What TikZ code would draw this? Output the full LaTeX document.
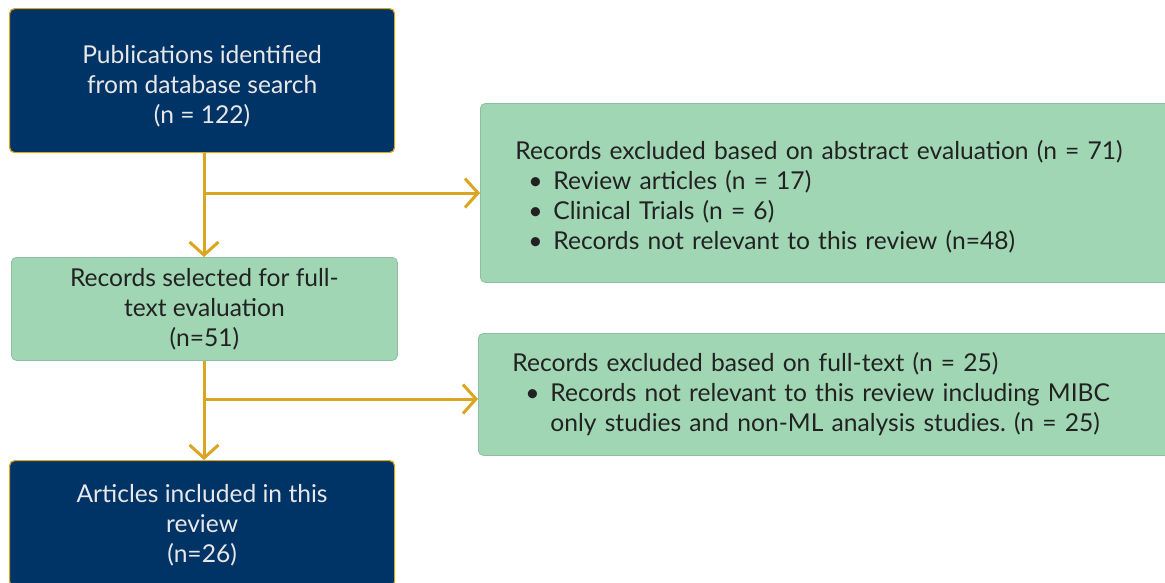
\documentclass[tikz,border=0pt]{standalone}
\usepackage{fontspec}
\setmainfont{Lato}
\usetikzlibrary{arrows.meta}
\definecolor{navy}{RGB}{0,51,102}
\definecolor{mint}{RGB}{160,214,180}
\definecolor{gold}{RGB}{218,165,32}
\definecolor{mintline}{RGB}{140,192,160}
\definecolor{darktext}{RGB}{34,34,34}
\definecolor{lighttext}{RGB}{232,232,232}
\newcommand{\bitem}{\hspace*{13pt}\makebox[25pt][l]{\textbullet}}
\frenchspacing
\begin{document}
\begin{tikzpicture}[x=1pt,y=-1pt,
  navybox/.style={draw=gold, line width=1.2pt, fill=navy, rounded corners=5pt, text=lighttext, align=center, font=\fontsize{24.6}{30}\selectfont},
  mintbox/.style={draw=mintline, line width=0.8pt, fill=mint, rounded corners=5pt, text=darktext, font=\fontsize{24.6}{30}\selectfont},
  flow/.style={draw=gold, line width=3pt, -{Straight Barb[length=13pt,width=29pt]}}]
\useasboundingbox (0,0) rectangle (1165,582);
\node[navybox, minimum width=385pt, minimum height=144pt, anchor=north west] (pub) at (9,8) {\rule{0pt}{30pt}Publications identified\\from database search\\(n = 122)};
\node[mintbox, align=center, minimum width=386pt, minimum height=103pt, anchor=north west] (sel) at (11,257) {Records selected for full-\\text evaluation\\(n=51)};
\node[navybox, minimum width=385pt, minimum height=126pt, anchor=north west] (inc) at (9,460) {\rule{0pt}{22pt}Articles included in this\\review\\(n=26)};
\node[mintbox, align=left, text width=660pt, inner xsep=35pt, minimum height=179pt, anchor=north west] (exA) at (480,103) {\rule{0pt}{26pt}Records excluded based on abstract evaluation (n = 71)\\\bitem Review articles (n = 17)\\\bitem Clinical Trials (n = 6)\\\bitem Records not relevant to this review (n=48)};
\node[mintbox, align=left, text width=660pt, inner xsep=34pt, minimum height=122pt, anchor=north west] (exB) at (478,333) {Records excluded based on full-text (n = 25)\\\bitem Records not relevant to this review including MIBC\\\hspace*{38pt}only studies and non-ML analysis studies. (n = 25)};
\coordinate (j1) at (204,193);
\coordinate (j2) at (204,399);
\draw[flow] (pub.south -| j1) -- (sel.north -| j1);
\draw[flow] (j1) -- (exA.west |- j1);
\draw[flow] (sel.south -| j2) -- (inc.north -| j2);
\draw[flow] (j2) -- (exB.west |- j2);
\end{tikzpicture}
\end{document}
